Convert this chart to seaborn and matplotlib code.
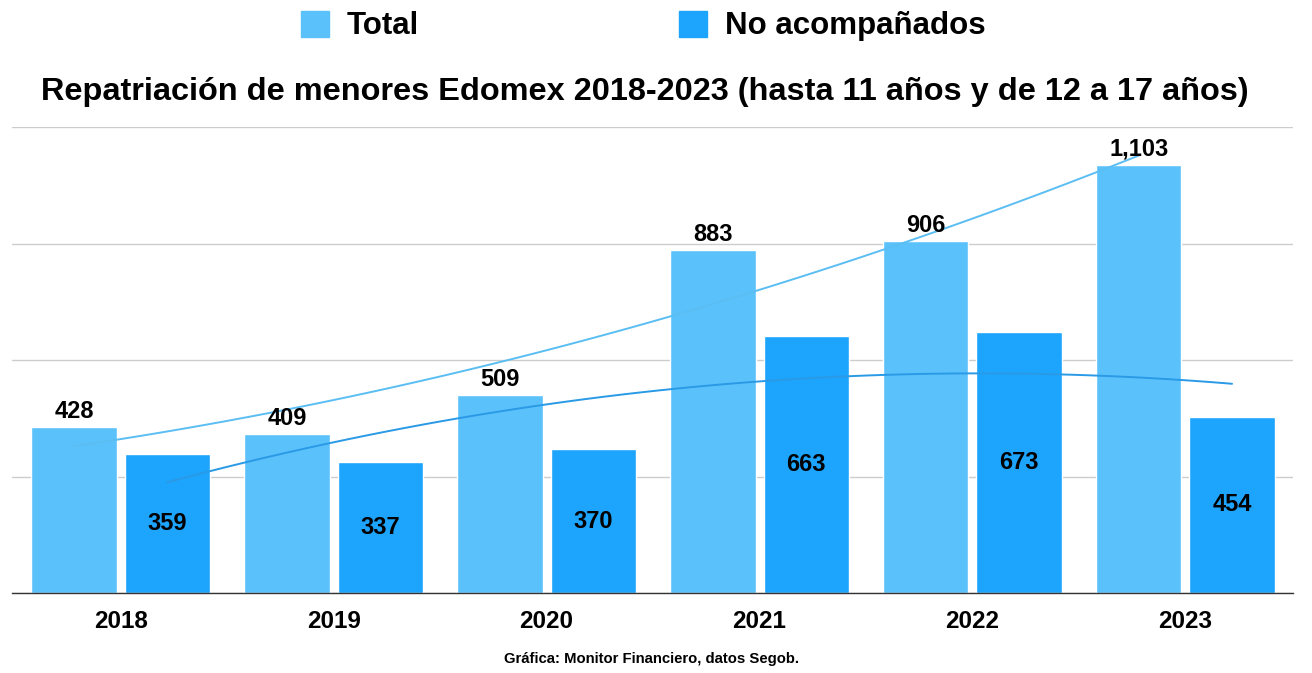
import numpy as np
import pandas as pd
import matplotlib
matplotlib.use("Agg")
import matplotlib.pyplot as plt
import matplotlib.patches as mpatches
import seaborn as sns

sns.set_theme(style="white")
plt.rcParams['font.family'] = ['Liberation Sans', 'DejaVu Sans']
plt.rcParams['text.color'] = 'black'
plt.rcParams['xtick.color'] = 'black'

# data
years = ["2018", "2019", "2020", "2021", "2022", "2023"]
total = [428, 409, 509, 883, 906, 1103]
no_acomp = [359, 337, 370, 663, 673, 454]
series_names = ["Total", "No acompañados"]
colors = ["#5BC1FB", "#1DA4FC"]

df = pd.DataFrame({
    "year": years * 2,
    "value": total + no_acomp,
    "serie": [series_names[0]] * len(years) + [series_names[1]] * len(years),
})

fig = plt.figure(figsize=(13.12, 6.73), dpi=100)
ax = fig.add_axes([12 / 1312, 1 - 593 / 673, (1293 - 12) / 1312, (593 - 127) / 673])

sns.barplot(data=df, x="year", y="value", hue="serie", palette=colors,
            width=0.875, gap=0.086, saturation=1, legend=False, ax=ax)

# labels: Total above the bar, No acompañados centered inside
ax.bar_label(ax.containers[0], labels=[f"{v:,}" for v in total], padding=3,
             fontsize=17, fontweight="bold", color="black")
ax.bar_label(ax.containers[1], labels=[f"{v:,}" for v in no_acomp], label_type="center",
             fontsize=17, fontweight="bold", color="black")

# quadratic trend lines through bar centers
for cont, vals, col in zip(ax.containers, [total, no_acomp], ["#5BBEF3", "#2A9AE6"]):
    xs = np.array([p.get_x() + p.get_width() / 2 for p in cont])
    sns.regplot(x=xs, y=np.array(vals, dtype=float), order=2, ci=None, scatter=False,
                truncate=True, line_kws={"color": col, "lw": 1.4}, ax=ax)

ax.set_ylim(0, 1200)
ax.set_xlim(-0.51, 5.505)
ax.set_yticks([0, 300, 600, 900, 1200])
ax.set_yticklabels([])
ax.yaxis.grid(True, color="#CCCCCC", lw=1)
ax.set_axisbelow(True)
ax.tick_params(axis="y", length=0)
ax.tick_params(axis="x", length=0, pad=12)
for lab in ax.get_xticklabels():
    lab.set_fontsize(17.5)
    lab.set_fontweight("bold")
    lab.set_color("black")
ax.set_xlabel("")
ax.set_ylabel("")
for s in ["top", "right", "left"]:
    ax.spines[s].set_visible(False)
ax.spines["bottom"].set_color("#333333")
ax.spines["bottom"].set_linewidth(1)

handles = [mpatches.Patch(color=c) for c in colors]
fig.legend(handles, series_names, loc="center", bbox_to_anchor=(643 / 1312, 1 - 26 / 673),
           ncol=2, frameon=False, prop={"size": 22.5, "weight": "bold"},
           handlelength=0.9, handleheight=0.9, handletextpad=0.58, columnspacing=8.3)

fig.text(645 / 1312, 1 - 92 / 673,
         "Repatriación de menores Edomex 2018-2023 (hasta 11 años y de 12 a 17 años)",
         ha="center", va="center", fontsize=23.4, fontweight="bold")
fig.text(652 / 1312, 1 - 659 / 673, "Gráfica: Monitor Financiero, datos Segob.",
         ha="center", va="center", fontsize=10.75, fontweight="bold")

fig.savefig("out.png", dpi=100)
